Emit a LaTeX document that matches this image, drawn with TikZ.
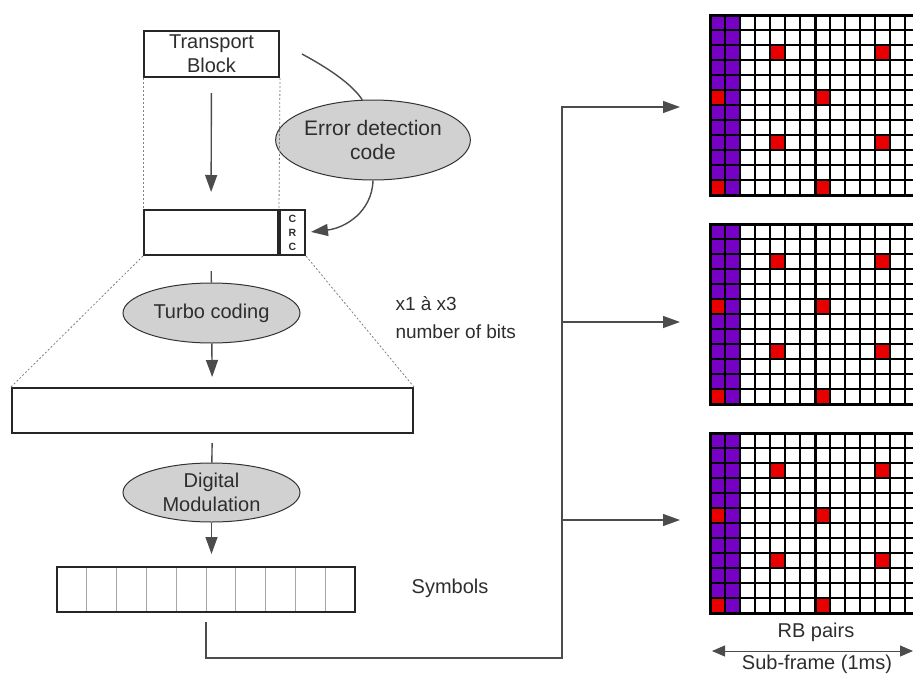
\documentclass[tikz,border=0pt]{standalone}
\usepackage{fontspec}
\setmainfont{Liberation Sans}
\usetikzlibrary{shapes.geometric,arrows.meta}
\definecolor{rbviolet}{RGB}{118,0,196}
\definecolor{rbred}{RGB}{232,0,0}
\definecolor{ink}{RGB}{45,45,45}

\begin{document}
\begin{tikzpicture}[x=1pt,y=-1pt,text=ink,
  font=\fontsize{20}{24}\selectfont,
  box/.style={draw=black!85, line width=2pt, minimum height=45pt, inner sep=0pt},
  proc/.style={ellipse, draw=black!80, line width=1pt, fill=black!18, inner sep=0pt, align=center},
  link/.style={black!70, line width=1.4pt},
  tip/.style={link, -{Triangle[length=17pt,width=12pt]}},
  guide/.style={gray, line width=0.8pt, dash pattern=on 2pt off 2pt}]
  \useasboundingbox (0,0) rectangle (913,675);

  \node[box, minimum width=135pt, minimum height=46pt, align=center] (tb) at (211.5,54) {Transport\\Block};
  \node[box, minimum width=134pt] (crcdata) at (211,232.5) {};
  \node[box, minimum width=25pt, anchor=west, align=center,
    font=\fontsize{10.5}{14}\selectfont\bfseries] (crc) at (crcdata.east) {C\\R\\C};
  \node[proc, minimum width=166pt, minimum height=80pt, font=\fontsize{21}{24}\selectfont] (edc) at (373,140) {Error detection\\code};
  \node[proc, minimum width=177pt, minimum height=60pt] (turbo) at (211.5,313) {Turbo coding};
  \node[box, minimum width=401pt] (coded) at (212.5,410.5) {};
  \node[proc, minimum width=177pt, minimum height=59pt] (modul) at (211.5,492.5) {Digital\\Modulation};
  \foreach \i in {1,...,9}
    \draw[black!35, line width=0.8pt] ({57+29.8*\i},567) -- ({57+29.8*\i},612);
  \node[box, minimum width=298pt] (symb) at (206,589.5) {};
  \node[align=left, anchor=west, font=\fontsize{19}{28}\selectfont] (bits) at (392,318) {x1 à x3\\number of bits};
  \node (symtext) at (450,588) {Symbols};

  \draw[tip, shorten <=15pt, shorten >=17pt] (tb) -- (crcdata);
  \draw[link, shorten <=15pt] (crcdata) -- (turbo);
  \draw[tip, shorten >=10pt] (turbo) -- (coded);
  \draw[link, shorten <=9pt] (coded) -- (modul);
  \draw[tip, shorten >=12pt] (modul.south) -- (modul.south |- symb.north);

  \draw[guide] (tb.south west) -- (crcdata.north west);
  \draw[guide] (tb.south east) -- (crcdata.north east);
  \draw[guide] (crcdata.south west) -- (coded.north west);
  \draw[guide] (crc.south east) -- (coded.north east);

  \coordinate (edin) at (302,54);
  \draw[link] (edin) .. controls (328,68) and (352,84) .. (edc.105);
  \draw[tip, shorten >=5pt] (edc.south) .. controls (372,212) and (345,228) .. (crc.east);

  \coordinate (fork) at (562,658);
  \coordinate (rb1) at (680,107);
  \coordinate (rb2) at (680,322);
  \coordinate (rb3) at (680,520);
  \draw[tip, shorten <=9pt] (symb.south) |- (fork) |- (rb1);
  \draw[tip] (fork |- rb2) -- (rb2);
  \draw[tip] (fork |- rb3) -- (rb3);

  \begin{scope}
    \clip (0,0) rectangle (913,675);
    \foreach \gy in {15,224,433} {
      \fill[rbviolet] (710,\gy) rectangle ({740},{\gy+180});
      \foreach \c/\r in {4/2,11/2,0/5,7/5,4/8,11/8,0/11,7/11}
        \fill[rbred] ({710+15*\c},{\gy+15*\r}) rectangle +(15,15);
      \foreach \k in {1,...,13}
        \draw[black, line width=1.2pt] ({710+15*\k},\gy) -- +(0,180);
      \foreach \k in {1,...,11}
        \draw[black, line width=1.2pt] (710,{\gy+15*\k}) -- +(210,0);
      \draw[black, line width=3pt] (710,\gy) rectangle +(210,180);
      \draw[black, line width=3pt] (815,\gy) -- +(0,180);
    }
  \end{scope}

  \coordinate (sfl) at (712,651);
  \coordinate (sfr) at (913,651);
  \draw[link, line width=1pt, {Triangle[length=13pt,width=11pt]}-{Triangle[length=13pt,width=11pt]}] (sfl) -- (sfr);
  \node (rbp) at (816,632) {RB pairs};
  \node[inner sep=0pt] (sf) at (817,664) {Sub-frame (1ms)};
\end{tikzpicture}
\end{document}
